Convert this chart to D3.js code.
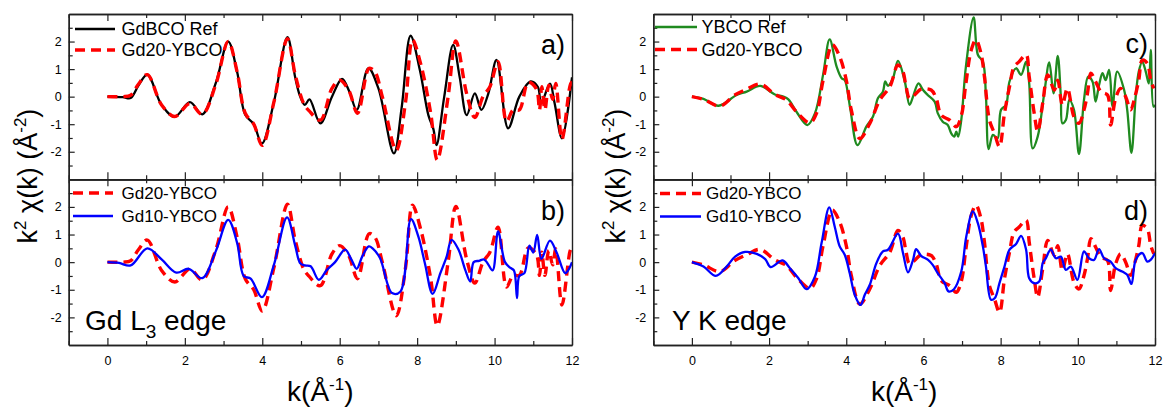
<!DOCTYPE html>
<html>
<head>
<meta charset="utf-8">
<script src="https://cdn.jsdelivr.net/npm/d3@7"></script>
<style>
body { margin: 0; background: #fff; }
text { font-family: "Liberation Sans", Arial, sans-serif; fill: #000; }
</style>
</head>
<body>
<div id="chart-area"></div>
<script>
// tick values
var kMajor = [0, 2, 4, 6, 8, 10, 12];
var kMinor = [-1, 1, 3, 5, 7, 9, 11];
var chiMajor = [-2, -1, 0, 1, 2];
var chiMinor = [-2.5, -1.5, -0.5, 0.5, 1.5, 2.5];

// Gd L3 edge: GdBCO reference
var gdRefK = [0, 0.4, 0.6, 0.8, 1.03, 1.4, 1.74, 2.13, 2.45, 2.8,
    3.12, 3.35, 3.56, 3.78, 3.99, 4.3, 4.65, 4.85, 4.98, 5.1,
    5.22, 5.5, 5.8, 6.06, 6.25, 6.44, 6.74, 7.0, 7.4, 7.6,
    7.83, 8.07, 8.29, 8.42, 8.5, 8.7, 8.93, 9.1, 9.28, 9.49,
    9.66, 9.84, 10.05, 10.35, 10.64, 10.93, 11.12, 11.2, 11.43, 11.55,
    11.74, 12];
var gdRefChi = [0, -0.02, -0.05, 0.4, 0.8, -0.3, -0.73, -0.2, -0.64, 0.5,
    2.0, 0.9, -0.66, -1.0, -1.7, -0.2, 2.16, 0.7, 0.0, -0.3,
    -0.1, -0.97, 0.0, 0.64, 0.18, -0.48, 1.03, 0.3, -2.06, -0.4,
    2.21, 0.97, -0.67, -1.18, -1.76, 0.0, 1.88, 0.7, -0.67, 0.12,
    -0.48, 0.12, 1.33, -1.15, 0.0, 0.55, 0.35, -0.25, 0.47, -0.23,
    -1.51, 0.7];

// Gd L3 edge: Gd20-YBCO
var gd20GdK = [0, 0.4, 0.6, 0.8, 1.03, 1.4, 1.74, 2.13, 2.45, 2.8,
    3.12, 3.35, 3.56, 3.78, 4.0, 4.3, 4.65, 4.85, 5.07, 5.2,
    5.5, 5.8, 6.0, 6.23, 6.46, 6.76, 6.91, 7.1, 7.46, 7.7,
    7.88, 8.09, 8.35, 8.52, 8.8, 9.0, 9.28, 9.49, 9.7, 9.88,
    10.09, 10.31, 10.48, 10.64, 10.87, 11.08, 11.16, 11.22, 11.3, 11.4,
    11.5, 11.58, 11.74, 11.95, 12];
var gd20GdChi = [0, 0, 0.05, 0.45, 0.8, -0.3, -0.72, -0.25, -0.64, 0.45,
    2.0, 0.9, -0.6, -1.0, -1.77, -0.2, 2.1, 0.8, -0.25, -0.5,
    -0.85, 0.3, 0.6, 0.24, -0.6, 1.03, 0.9, 0.0, -1.94, -0.2,
    2.06, 1.2, -0.6, -2.3, 0.0, 2.02, 0.1, -0.76, 0.0, 0.36,
    1.27, -0.9, -0.48, -0.48, 0.52, 0.28, -0.48, 0.36, -0.48, 0.42,
    -0.1, 0.48, -1.55, 0.4, 0.55];

// Gd L3 edge: Gd10-YBCO
var gd10GdK = [0, 0.3, 0.6, 1.03, 1.4, 1.78, 2.1, 2.45, 2.8, 3.12,
    3.35, 3.52, 3.7, 3.99, 4.3, 4.64, 4.85, 4.98, 5.1, 5.25,
    5.46, 5.67, 5.88, 6.14, 6.3, 6.44, 6.58, 6.75, 6.85, 7.04,
    7.35, 7.57, 7.84, 8.03, 8.2, 8.4, 8.6, 8.76, 8.89, 9.07,
    9.24, 9.37, 9.46, 9.6, 9.72, 9.8, 9.95, 10.09, 10.27, 10.4,
    10.5, 10.58, 10.64, 10.77, 10.9, 11.0, 11.1, 11.21, 11.43, 11.6,
    11.82, 11.9, 12];
var gd10GdChi = [0, -0.03, -0.12, 0.5, 0.1, -0.38, -0.24, -0.58, 0.4, 1.53,
    0.7, -0.5, -0.6, -1.27, -0.1, 1.62, 0.6, -0.04, -0.12, -0.15,
    -0.64, -0.28, 0.0, 0.45, 0.1, -0.24, 0.2, 0.57, 0.5, 0.15,
    -1.12, -1.06, 1.56, 0.93, -0.04, -1.15, -0.4, 0.19, 0.81, 0.45,
    -0.27, -0.7, 0.0, 0.05, 0.1, 0.0, -0.3, 1.11, 0.0, -0.2,
    -0.3, -1.3, -0.5, -0.4, 0.6, 0.35, 0.99, 0.12, 0.78, 0.36,
    -0.4, -0.3, 0.0];

// Y K edge: YBCO reference
var yRefK = [0, 0.3, 0.69, 1.16, 1.42, 1.77, 2.15, 2.37, 2.5, 2.71,
    2.99, 3.19, 3.4, 3.57, 3.75, 3.88, 3.96, 4.1, 4.29, 4.52,
    4.69, 4.82, 4.95, 5.01, 5.08, 5.21, 5.34, 5.51, 5.64, 5.73,
    5.87, 5.99, 6.11, 6.29, 6.37, 6.5, 6.63, 6.72, 6.8, 6.85,
    6.9, 6.98, 7.1, 7.3, 7.41, 7.54, 7.62, 7.69, 7.8, 7.92,
    8.01, 8.14, 8.23, 8.4, 8.53, 8.66, 8.74, 8.83, 8.96, 9.13,
    9.26, 9.37, 9.48, 9.56, 9.6, 9.69, 9.78, 9.9, 10.03, 10.16,
    10.27, 10.38, 10.46, 10.55, 10.64, 10.72, 10.81, 10.9, 11.02, 11.2,
    11.28, 11.39, 11.5, 11.58, 11.67, 11.76, 11.84, 11.89, 11.96, 12];
var yRefChi = [0, -0.08, -0.33, 0.06, 0.18, 0.39, 0.08, 0.0, -0.1, -0.55,
    -1.03, -0.6, 0.8, 2.08, 1.09, 0.67, 0.6, -0.4, -1.76, -1.09,
    -0.73, -0.06, 0.18, 0.55, 0.39, 0.67, 1.3, 0.6, -0.3, 0.0,
    0.48, 0.24, 0.06, -0.18, -0.6, -0.91, -1.03, -1.33, -1.45, -1.27,
    -1.45, -0.85, 1.09, 2.88, 1.52, 1.27, 0.0, -1.9, -1.39, -1.52,
    -0.48, -0.3, 0.55, 1.03, 0.79, 1.27, 0.48, -1.88, -1.45, 0.12,
    1.24, 0.12, 1.48, 0.0, -0.97, -0.85, -0.12, -0.48, -2.08, -0.12,
    0.73, 0.55, -0.18, 0.42, 0.85, 0.6, 0.97, -0.36, 0.91, 0.24,
    -0.48, -2.04, 0.0, 0.91, 1.27, 0.91, 0.48, 1.7, -0.36, -0.3];

// Y K edge: Gd20-YBCO
var gd20YK = [0, 0.3, 0.73, 1.1, 1.42, 1.77, 2.15, 2.45, 2.71, 3.06,
    3.23, 3.4, 3.64, 3.83, 4.0, 4.13, 4.35, 4.61, 4.87, 5.13,
    5.34, 5.47, 5.55, 5.64, 5.77, 5.94, 6.2, 6.33, 6.46, 6.68,
    6.85, 6.98, 7.1, 7.24, 7.36, 7.49, 7.58, 7.71, 7.84, 7.97,
    8.1, 8.23, 8.35, 8.48, 8.66, 8.74, 8.87, 8.96, 9.09, 9.22,
    9.39, 9.48, 9.6, 9.73, 9.9, 10.03, 10.16, 10.25, 10.34, 10.46,
    10.6, 10.77, 10.85, 10.98, 11.11, 11.24, 11.37, 11.47, 11.58, 11.67,
    11.8, 11.89, 11.97];
var gd20YChi = [0, -0.1, -0.34, 0.05, 0.27, 0.46, 0.08, -0.12, -0.55, -0.95,
    -0.6, 0.6, 1.88, 1.45, 0.6, -0.48, -1.52, -0.97, -0.12, 0.36,
    1.15, 0.9, 0.36, -0.06, 0.06, 0.27, 0.24, -0.06, -0.67, -0.85,
    -1.09, -0.7, 0.48, 1.7, 2.06, 1.58, 0.73, -0.85, -1.33, -1.82,
    -0.6, 0.36, 1.09, 1.27, 1.52, 0.73, -0.6, -1.27, -0.24, 0.79,
    0.24, 0.6, -0.3, 0.3, -0.73, -0.97, -0.48, 0.12, 0.85, 0.55,
    0.18, 0.06, -1.03, -0.06, 0.3, 0.0, -0.48, -0.06, 0.6, 1.33,
    1.21, 0.6, 0.3];

// Y K edge: Gd10-YBCO
var gd10YK = [0, 0.3, 0.62, 0.9, 1.12, 1.38, 1.68, 1.9, 2.04, 2.35,
    2.54, 2.76, 2.97, 3.19, 3.36, 3.56, 3.7, 3.83, 3.96, 4.09,
    4.22, 4.37, 4.48, 4.61, 4.78, 4.95, 5.08, 5.34, 5.47, 5.6,
    5.73, 5.81, 5.94, 6.12, 6.24, 6.37, 6.55, 6.65, 6.79, 6.98,
    7.11, 7.28, 7.41, 7.54, 7.62, 7.75, 7.85, 7.97, 8.1, 8.23,
    8.4, 8.53, 8.66, 8.74, 8.87, 9.0, 9.09, 9.17, 9.3, 9.43,
    9.56, 9.69, 9.82, 9.99, 10.16, 10.29, 10.42, 10.55, 10.68, 10.85,
    10.98, 11.15, 11.28, 11.39, 11.5, 11.67, 11.8, 11.9, 12];
var gd10YChi = [0, -0.16, -0.5, -0.16, 0.2, 0.37, 0.3, 0.11, -0.18, 0.06,
    -0.22, -0.58, -0.98, -0.52, 0.69, 1.98, 1.29, 0.57, 0.27, -0.4,
    -1.18, -1.55, -1.18, -0.82, -0.04, 0.39, 0.45, 1.03, 0.33, -0.37,
    0.08, 0.47, 0.23, 0.08, -0.1, -0.4, -0.76, -1.06, -0.98, -0.34,
    0.93, 1.84, 1.41, 0.57, -0.16, -1.36, -1.3, -0.76, -0.16, 0.45,
    0.66, 0.95, 0.45, -0.58, -0.76, -0.7, -0.04, 0.14, 0.45, 0.14,
    0.2, -0.28, -0.16, -0.64, 0.39, 0.14, 0.08, 0.47, 0.14, 0.02,
    -0.22, -0.34, -0.46, -0.79, 0.08, 0.33, 0.02, 0.1, 0.33];

var RED = "#ff0000", BLACK = "#000000", BLUE = "#0000ff", GREEN = "#1f8a1f";

var svg = d3.select("#chart-area").append("svg")
    .attr("width", 1164)
    .attr("height", 408);

var leftCol = [68.7, 572], rightCol = [653.3, 1155];
var topRow = [14, 179.3], botRow = [179.3, 345];

var line = function(x, y) {
    return d3.line()
        .x(function(d) { return x(d[0]); })
        .y(function(d) { return y(d[1]); })
        .curve(d3.curveCatmullRom.alpha(0.5));
};

var clipId = 0;
function drawPanel(p) {
    var x = d3.scaleLinear().domain([-1, 12]).range(p.cols);
    var y = d3.scaleLinear().domain([-3, 3]).range([p.rows[1], p.rows[0]]);
    var g = svg.append("g");

    clipId++;
    svg.append("clipPath").attr("id", "clip" + clipId)
        .append("rect")
        .attr("x", p.cols[0]).attr("y", p.rows[0])
        .attr("width", p.cols[1] - p.cols[0]).attr("height", p.rows[1] - p.rows[0]);

    var curves = g.append("g").attr("clip-path", "url(#clip" + clipId + ")");
    p.series.forEach(function(s) {
        curves.append("path")
            .datum(d3.zip(s.k, s.chi))
            .attr("d", line(x, y))
            .attr("fill", "none")
            .attr("stroke", s.color)
            .attr("stroke-width", s.dashed ? 3.4 : 2.3)
            .attr("stroke-dasharray", s.dashed ? "10,6" : null)
            .attr("stroke-linejoin", "round");
    });

    // axes: major + minor ticks, all pointing inward
    var bottomMajor = d3.axisBottom(x).tickValues(kMajor).tickSizeInner(-7).tickSizeOuter(0).tickPadding(11);
    if (!p.xLabels) bottomMajor.tickFormat("");
    var axes = g.append("g").attr("class", "axes");
    axes.append("g").attr("transform", "translate(0," + p.rows[1] + ")").call(bottomMajor);
    axes.append("g").attr("transform", "translate(0," + p.rows[1] + ")")
        .call(d3.axisBottom(x).tickValues(kMinor).tickSizeInner(-4).tickSizeOuter(0).tickFormat(""));
    axes.append("g").attr("transform", "translate(0," + p.rows[0] + ")")
        .call(d3.axisTop(x).tickValues(kMajor).tickSizeInner(-7).tickSizeOuter(0).tickFormat(""));
    axes.append("g").attr("transform", "translate(0," + p.rows[0] + ")")
        .call(d3.axisTop(x).tickValues(kMinor).tickSizeInner(-4).tickSizeOuter(0).tickFormat(""));
    axes.append("g").attr("transform", "translate(" + p.cols[0] + ",0)")
        .call(d3.axisLeft(y).tickValues(chiMajor).tickSizeInner(-6).tickSizeOuter(0).tickPadding(7)
            .tickFormat(function(d) { return String(d); }));
    axes.append("g").attr("transform", "translate(" + p.cols[0] + ",0)")
        .call(d3.axisLeft(y).tickValues(chiMinor).tickSizeInner(-4).tickSizeOuter(0).tickFormat(""));
    axes.append("g").attr("transform", "translate(" + p.cols[1] + ",0)")
        .call(d3.axisRight(y).tickValues([]).tickSizeOuter(0));

    axes.selectAll("path.domain").attr("stroke", "#222").attr("stroke-width", 1.4);
    axes.selectAll(".tick line").attr("stroke", "#222").attr("stroke-width", 1.2);
    axes.selectAll(".tick text")
        .attr("font-size", "12.5px")
        .attr("font-family", "'Liberation Sans', Arial, sans-serif")
        .attr("fill", "#000");

    // legend
    p.legend.forEach(function(it, i) {
        var s = p.series[it.idx];
        var ly = p.legendY[i];
        g.append("line")
            .attr("x1", p.legendX[0]).attr("x2", p.legendX[1])
            .attr("y1", ly).attr("y2", ly)
            .attr("stroke", s.color)
            .attr("stroke-width", s.dashed ? 3.4 : 2.3)
            .attr("stroke-dasharray", s.dashed ? "10,6" : null);
        g.append("text")
            .attr("x", p.legendX[2])
            .attr("y", ly)
            .attr("dy", "0.35em")
            .attr("font-size", p.legendSize + "px")
            .text(it.name);
    });

    // panel letter
    g.append("text")
        .attr("x", p.cols[1] - 7)
        .attr("y", p.letterY)
        .attr("text-anchor", "end")
        .attr("font-size", "27px")
        .text(p.letter);
}

drawPanel({
    cols: leftCol, rows: topRow, xLabels: false,
    series: [{k: gdRefK, chi: gdRefChi, color: BLACK}, {k: gd20GdK, chi: gd20GdChi, color: RED, dashed: true}],
    legend: [{idx: 0, name: "GdBCO Ref"}, {idx: 1, name: "Gd20-YBCO"}],
    legendX: [75, 115, 121.5], legendY: [29, 50], legendSize: 18,
    letter: "a)", letterY: 54
});
drawPanel({
    cols: leftCol, rows: botRow, xLabels: true,
    series: [{k: gd20GdK, chi: gd20GdChi, color: RED, dashed: true}, {k: gd10GdK, chi: gd10GdChi, color: BLUE}],
    legend: [{idx: 0, name: "Gd20-YBCO"}, {idx: 1, name: "Gd10-YBCO"}],
    legendX: [73, 113, 121.5], legendY: [193, 216], legendSize: 17,
    letter: "b)", letterY: 219.5
});
drawPanel({
    cols: rightCol, rows: topRow, xLabels: false,
    series: [{k: yRefK, chi: yRefChi, color: GREEN}, {k: gd20YK, chi: gd20YChi, color: RED, dashed: true}],
    legend: [{idx: 0, name: "YBCO Ref"}, {idx: 1, name: "Gd20-YBCO"}],
    legendX: [655, 697, 701.5], legendY: [27, 49.5], legendSize: 18,
    letter: "c)", letterY: 53
});
drawPanel({
    cols: rightCol, rows: botRow, xLabels: true,
    series: [{k: gd20YK, chi: gd20YChi, color: RED, dashed: true}, {k: gd10YK, chi: gd10YChi, color: BLUE}],
    legend: [{idx: 0, name: "Gd20-YBCO"}, {idx: 1, name: "Gd10-YBCO"}],
    legendX: [660, 701, 706], legendY: [193.5, 216.5], legendSize: 17,
    letter: "d)", letterY: 219.5
});

// edge labels
var gdEdge = svg.append("text").attr("x", 85).attr("y", 330).attr("font-size", "28px");
gdEdge.append("tspan").text("Gd L");
gdEdge.append("tspan").attr("dy", 8).attr("font-size", "19px").text("3");
gdEdge.append("tspan").attr("dy", -8).text(" edge");

svg.append("text").attr("x", 672).attr("y", 329.5).attr("font-size", "28px").text("Y K edge");

// axis titles
[leftCol, rightCol].forEach(function(c, i) {
    var cx = (c[0] + c[1]) / 2;
    var xt = svg.append("text")
        .attr("x", cx).attr("y", 401)
        .attr("text-anchor", "middle")
        .attr("font-size", "28px");
    xt.append("tspan").text("k(Å");
    xt.append("tspan").attr("dy", -11).attr("font-size", "17px").text("-1");
    xt.append("tspan").attr("dy", 11).text(")");

    var yt = svg.append("text")
        .attr("text-anchor", "middle")
        .attr("font-size", "27px")
        .attr("transform", "translate(" + (i === 0 ? 37 : 625) + ",176) rotate(-90)");
    yt.append("tspan").text("k");
    yt.append("tspan").attr("dy", -11).attr("font-size", "17px").text("2");
    yt.append("tspan").attr("dy", 11).text(" χ(k) (Å");
    yt.append("tspan").attr("dy", -11).attr("font-size", "17px").text("-2");
    yt.append("tspan").attr("dy", 11).text(")");
});
</script>
</body>
</html>
